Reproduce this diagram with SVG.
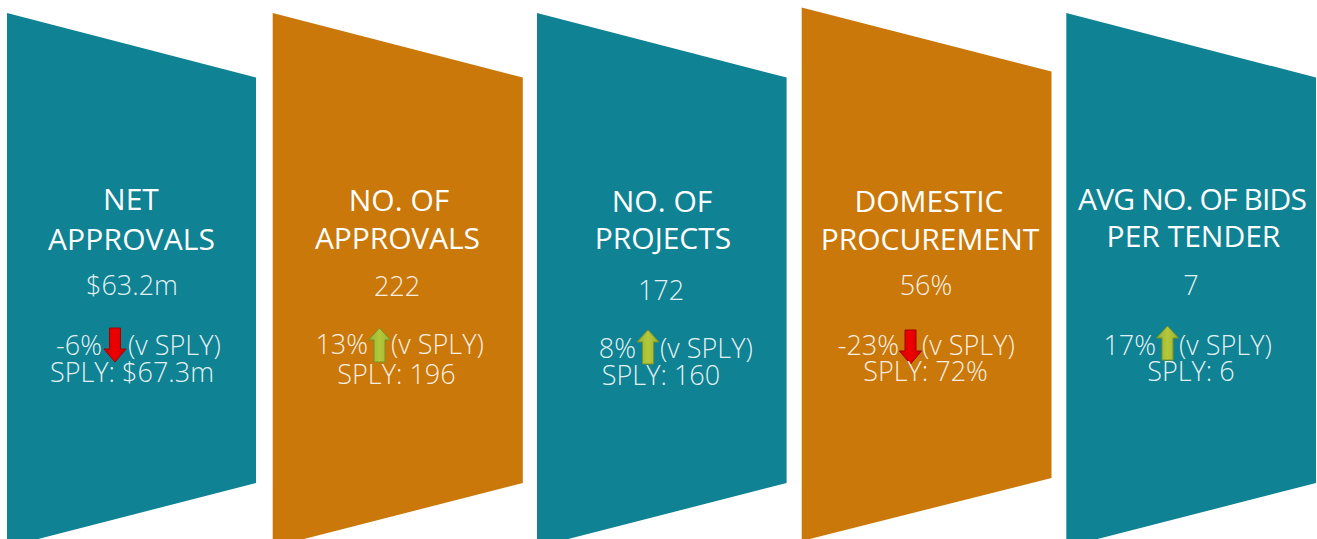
<svg xmlns="http://www.w3.org/2000/svg" width="1317" height="539" viewBox="0 0 1317 539">
<style>
.teal{fill:#0F8294}
.orange{fill:#CA7809}
.t{font-family:"Open Sans","Noto Sans","Liberation Sans",sans-serif;font-size:30px;fill:#FFFFFF;text-anchor:middle}
.v{font-family:"Open Sans","Noto Sans","Liberation Sans",sans-serif;font-size:27px;font-weight:300;fill:#FFFFFF;fill-opacity:0.9;text-anchor:middle}
.ve{text-anchor:end}
.vs{text-anchor:start}
.up{fill:url(#gUp);stroke:#7E8F23;stroke-width:1}
.down{fill:url(#gDown);stroke:#A00000;stroke-width:1}
</style>
<defs>
<linearGradient id="gUp" x1="0" y1="0" x2="1" y2="0">
<stop offset="0" stop-color="#8DB33A"/>
<stop offset="0.5" stop-color="#B5C83A"/>
<stop offset="1" stop-color="#97B236"/>
</linearGradient>
<linearGradient id="gDown" x1="0" y1="0" x2="1" y2="0">
<stop offset="0" stop-color="#D40000"/>
<stop offset="0.5" stop-color="#F00000"/>
<stop offset="1" stop-color="#D00000"/>
</linearGradient>
<path id="arrUp" d="M11,0 L22,12 L16.5,12 L16.5,34 L5.5,34 L5.5,12 L0,12 Z"/>
<path id="arrDown" d="M5.5,0 L16.5,0 L16.5,21 L22,21 L11,34 L0,21 L5.5,21 Z"/>
</defs>

<g id="node-net-approvals">
<polygon class="teal" points="7,13 256,77.5 256,483 7,547"/>
<text class="t" x="131" y="210">NET</text>
<text class="t" x="131.5" y="250" textLength="167" lengthAdjust="spacing">APPROVALS</text>
<text class="v" x="132" y="295">$63.2m</text>
<text class="v ve" x="102" y="355">-6%</text>
<use href="#arrDown" class="down" x="104" y="328"/>
<text class="v vs" x="128" y="355">(v SPLY)</text>
<text class="v" x="132" y="382">SPLY: $67.3m</text>
</g>

<g id="node-no-of-approvals">
<polygon class="orange" points="272.7,13 522.8,77.5 522.8,483 272.7,547"/>
<text class="t" x="399" y="211">NO. OF</text>
<text class="t" x="397.5" y="249" textLength="165" lengthAdjust="spacing">APPROVALS</text>
<text class="v" x="397" y="296">222</text>
<text class="v ve" x="368" y="354">13%</text>
<use href="#arrUp" class="up" x="368.5" y="328"/>
<text class="v vs" x="391" y="354">(v SPLY)</text>
<text class="v" x="396.5" y="384">SPLY: 196</text>
</g>

<g id="node-no-of-projects">
<polygon class="teal" points="537,13 786.6,77.5 786.6,483 537,547"/>
<text class="t" x="662" y="211.5">NO. OF</text>
<text class="t" x="663" y="249">PROJECTS</text>
<text class="v" x="661" y="300">172</text>
<text class="v ve" x="636" y="358">8%</text>
<use href="#arrUp" class="up" x="637" y="330"/>
<text class="v vs" x="660" y="358">(v SPLY)</text>
<text class="v" x="661" y="385">SPLY: 160</text>
</g>

<g id="node-domestic-procurement">
<polygon class="orange" points="801.7,7.5 1051.5,71.5 1051.5,478 801.7,541"/>
<text class="t" x="929" y="211.5">DOMESTIC</text>
<text class="t" x="930" y="250">PROCUREMENT</text>
<text class="v" x="926" y="295">56%</text>
<text class="v ve" x="899" y="355">-23%</text>
<use href="#arrDown" class="down" x="899.5" y="330"/>
<text class="v vs" x="922" y="355">(v SPLY)</text>
<text class="v" x="925.5" y="381">SPLY: 72%</text>
</g>

<g id="node-avg-bids">
<polygon class="teal" points="1066.3,13 1316,77.5 1316,483 1066.3,547"/>
<text class="t" x="1192.5" y="210" textLength="229" lengthAdjust="spacing">AVG NO. OF BIDS</text>
<text class="t" x="1193.5" y="246.5">PER TENDER</text>
<text class="v" x="1191" y="295">7</text>
<text class="v ve" x="1156" y="355">17%</text>
<use href="#arrUp" class="up" x="1156.5" y="326"/>
<text class="v vs" x="1179" y="355">(v SPLY)</text>
<text class="v" x="1191" y="381">SPLY: 6</text>
</g>

<g id="connectors"/>
</svg>
